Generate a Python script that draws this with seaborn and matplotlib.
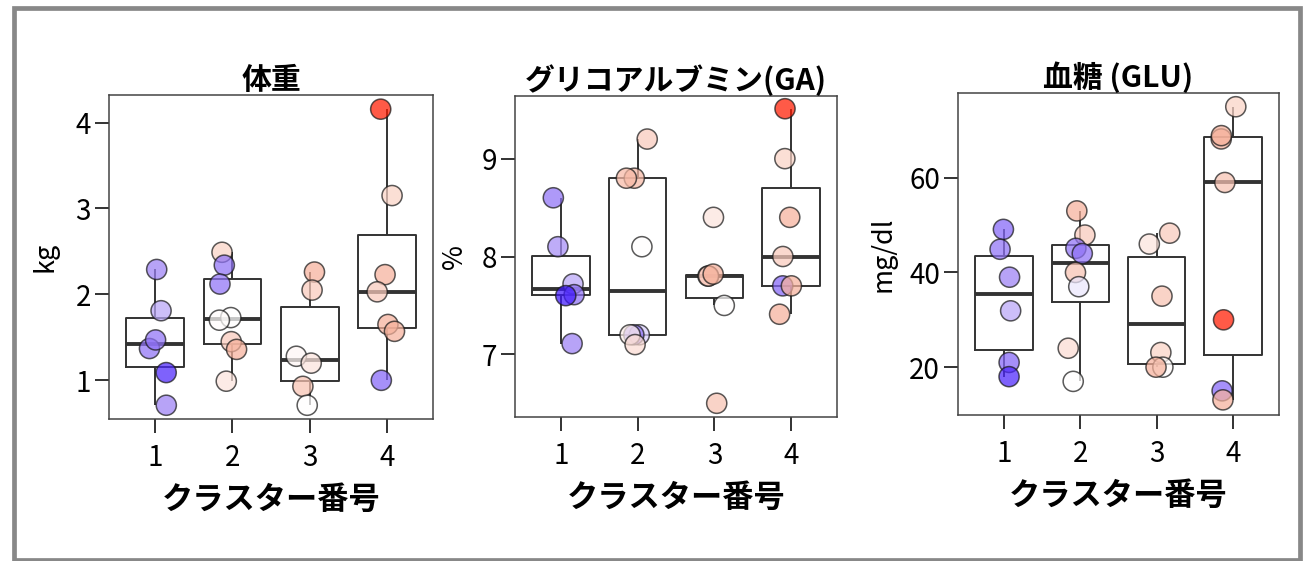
import numpy as np
import pandas as pd
import matplotlib
matplotlib.use("Agg")
import matplotlib.pyplot as plt
from matplotlib.colors import LinearSegmentedColormap
from matplotlib.patches import Rectangle
import seaborn as sns

# ---------------- data ----------------
clusters = ["1", "2", "3", "4"]
titles = ["体重", "グリコアルブミン(GA)", "血糖 (GLU)"]
ylabels = ["kg", "%", "mg/dl"]
xlabel = "クラスター番号"

# 体重 (kg)
wt_c1 = [2.29, 1.81, 1.37, 1.47, 1.09, 0.71]
wt_c2 = [2.49, 2.34, 2.12, 1.73, 1.70, 1.45, 1.36, 0.99]
wt_c3 = [2.26, 2.05, 1.28, 1.20, 0.93, 0.71]
wt_c4 = [4.155, 3.15, 2.23, 2.03, 1.65, 1.57, 1.00]
wt_s1 = [-0.5, -0.35, -0.55, -0.55, -0.85, -0.5]
wt_s2 = [0.25, -0.55, -0.55, 0.0, 0.02, 0.3, 0.45, 0.15]
wt_s3 = [0.45, 0.3, 0.05, 0.15, 0.35, 0.0]
wt_s4 = [1.0, 0.25, 0.45, 0.3, 0.45, 0.45, -0.6]

# グリコアルブミン (%)
ga_c1 = [8.6, 8.1, 7.72, 7.61, 7.6, 7.11]
ga_c2 = [9.2, 8.8, 8.8, 8.1, 7.2, 7.2, 7.2, 7.1]
ga_c3 = [8.4, 7.8, 7.8, 7.82, 7.5, 6.5]
ga_c4 = [9.51, 9.0, 8.4, 8.0, 7.7, 7.7, 7.41]
ga_s1 = [-0.55, -0.45, -0.35, -0.55, -0.9, -0.5]
ga_s2 = [0.3, 0.4, 0.4, 0.0, -0.2, -0.55, 0.1, 0.2]
ga_s3 = [0.15, 0.2, 0.35, 0.45, 0.0, 0.35]
ga_s4 = [1.0, 0.25, 0.45, 0.3, -0.6, 0.45, 0.45]

# 血糖 (mg/dl)
glu_c1 = [49.1, 44.9, 39.0, 31.9, 21.0, 18.0]
glu_c2 = [53.0, 47.9, 45.1, 44.0, 40.0, 37.0, 24.0, 17.0]
glu_c3 = [48.3, 46.0, 35.0, 23.1, 20.0, 20.0]
glu_c4 = [75.0, 68.2, 68.9, 59.0, 30.0, 15.0, 13.1]
glu_s1 = [-0.6, -0.55, -0.5, -0.35, -0.6, -0.85]
glu_s2 = [0.45, 0.3, -0.55, -0.55, 0.35, -0.1, 0.2, 0.0]
glu_s3 = [0.3, 0.15, 0.35, 0.25, 0.02, 0.45]
glu_s4 = [0.25, 0.45, 0.45, 0.35, 1.0, -0.6, 0.45]

yticks_list = [[1, 2, 3, 4], [7, 8, 9], [20, 40, 60]]
ylims = [(0.55, 4.32), (6.36, 9.64), (9.9, 77.9)]


def make_df(vals, scores):
    rows = []
    for c, v, s in zip(clusters, vals, scores):
        for vi, si in zip(v, s):
            rows.append((c, vi, si))
    return pd.DataFrame(rows, columns=["cluster", "value", "score"])


dfs = [
    make_df([wt_c1, wt_c2, wt_c3, wt_c4], [wt_s1, wt_s2, wt_s3, wt_s4]),
    make_df([ga_c1, ga_c2, ga_c3, ga_c4], [ga_s1, ga_s2, ga_s3, ga_s4]),
    make_df([glu_c1, glu_c2, glu_c3, glu_c4], [glu_s1, glu_s2, glu_s3, glu_s4]),
]

# ---------------- style ----------------
sns.set_theme(style="ticks")
plt.rcParams["font.family"] = ["Noto Sans CJK JP", "DejaVu Sans"]
plt.rcParams["text.color"] = "black"
plt.rcParams["axes.labelcolor"] = "black"
plt.rcParams["xtick.color"] = "black"
plt.rcParams["ytick.color"] = "black"

cmap = LinearSegmentedColormap.from_list(
    "bwr2", ["#2a00ff", "#9b80f5", "#ffffff", "#f5a890", "#ff1a00"])

fig = plt.figure(figsize=(13.03, 5.61), dpi=100)
W, H = 1303, 561
axes_px = [(109, 95, 433, 419), (515, 96, 837, 417), (958, 93, 1279, 415)]
ylabelpads = [12, 10, 9]

np.random.seed(3)
for i, (df, (l, t, r, b)) in enumerate(zip(dfs, axes_px)):
    ax = fig.add_axes([l / W, 1 - b / H, (r - l) / W, (b - t) / H])
    sns.boxplot(data=df, x="cluster", y="value", order=clusters, ax=ax,
                width=0.75, fill=False, color="#333333", linewidth=1.4,
                showfliers=False, showcaps=False,
                medianprops=dict(linewidth=2.8, color="#333333"))
    sns.stripplot(data=df, x="cluster", y="value", order=clusters, ax=ax,
                  hue="score", palette=cmap, hue_norm=(-1, 1), legend=False,
                  jitter=0.18, size=14.5, alpha=0.72, edgecolor="#1a1a1a",
                  linewidth=1.1, zorder=3)
    ax.set_xlim(-0.6, 3.6)
    ax.set_ylim(*ylims[i])
    ax.set_yticks(yticks_list[i])
    ax.set_title(titles[i], fontsize=21.5, fontweight="bold", pad=4,
                 color="black")
    ax.set_xlabel(xlabel, fontsize=22.5, fontweight="bold", labelpad=8)
    ax.set_ylabel(ylabels[i], fontsize=19.5, labelpad=ylabelpads[i])
    ax.tick_params(axis="both", labelsize=20, length=10, width=1.3,
                   color="#222222", pad=3)
    ax.tick_params(axis="x", pad=7)
    for sp in ax.spines.values():
        sp.set_visible(True)
        sp.set_color("#444444")
        sp.set_linewidth(1.1)

# outer grey frame
fig.patches.append(Rectangle((14 / W, 1 - 559.5 / H), (1299.5 - 14) / W,
                             (559.5 - 7.5) / H, transform=fig.transFigure,
                             fill=False, edgecolor="#888888", linewidth=3.4))

fig.savefig("out.png", dpi=100, facecolor="white")
